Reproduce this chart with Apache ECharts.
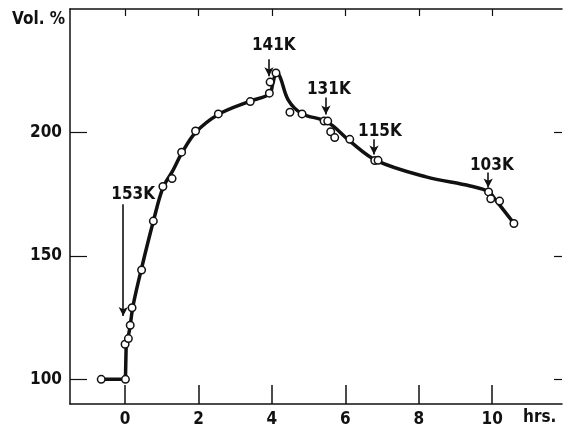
<!DOCTYPE html>
<html>
<head>
<meta charset="utf-8">
<script src="https://cdn.jsdelivr.net/npm/echarts@6/dist/echarts.min.js"></script>
<style>
  html, body { margin: 0; padding: 0; background: #fff; }
  #chart { width: 563px; height: 428px; }
</style>
</head>
<body>
<div id="chart"></div>
<script>
// Measured volume (%) against time (hrs.)
const obsHours = [-0.65, 0.01, 0.0, 0.09, 0.14, 0.19, 0.45, 0.77, 1.03, 1.28, 1.54, 1.92, 2.54, 3.41, 3.93, 3.95, 4.11, 4.49, 4.82, 5.42, 5.52, 5.6, 5.71, 6.12, 6.8, 6.89, 9.9, 9.96, 10.2, 10.59];
const obsVol   = [100, 100, 114.2, 116.5, 121.9, 129, 144.3, 164.1, 178.1, 181.3, 192, 200.6, 207.5, 212.5, 215.9, 220.4, 224.1, 208.2, 207.5, 204.6, 204.6, 200.3, 197.9, 197.2, 188.6, 188.7, 175.9, 173.1, 172.2, 163.1];

// Baseline and initial jump of the trend line (straight segments)
const stepHours = [-0.65, 0.01, 0.03];
const stepVol   = [100, 100, 114];

// Smooth part of the trend line
const curveHours = [0.03, 0.12, 0.22, 0.45, 0.77, 1.03, 1.3, 1.54, 1.92, 2.54, 3.41, 3.93, 4.02, 4.12, 4.22, 4.45, 4.82, 5.5, 6.12, 6.85, 8.2, 9.4, 9.9, 10.1, 10.59];
const curveVol   = [114, 120, 130, 145, 164, 177.5, 184.5, 191.5, 200, 207.3, 212.7, 215.5, 219.5, 224.3, 222.5, 213, 207.6, 204.3, 196.5, 188.6, 182, 178.3, 176, 172.5, 163.2];

// Temperature change markers: label, arrow x, arrow top, arrow tip, label x, label y
const markLabels = ['153K', '141K', '131K', '115K', '103K'];
const markX      = [-0.05, 3.92, 5.47, 6.78, 9.89];
const markTop    = [170.9, 229.6, 214.2, 197.2, 183.8];
const markTip    = [125.6, 222.8, 207.3, 191.1, 177.7];
const labelX     = [0.22, 4.05, 5.55, 6.94, 9.99];
const labelY     = [174.9, 235.2, 217.4, 200.5, 186.4];

// Axis tick labels
const xTicks = [0, 2, 4, 6, 8, 10];
const yTicks = [100, 150, 200];

const FONT = "'Liberation Sans Narrow', 'DejaVu Sans Condensed', 'Liberation Sans', sans-serif";
const INK = '#111';
const FS = 17;
const FW = 'bold';

const chart = echarts.init(document.getElementById('chart'), null, { renderer: 'canvas' });

const pairs = (xs, ys) => xs.map((x, i) => [x, ys[i]]);
const labelData = markLabels.map((t, i) => ({ value: [labelX[i], labelY[i]], name: t }));
const arrowData = markLabels.map((t, i) => [
  { coord: [markX[i], markTop[i]] },
  { coord: [markX[i], markTip[i]] }
]);

const traceStyle = { color: INK, width: 3.5, cap: 'round', join: 'round' };

chart.setOption({
  animation: false,
  backgroundColor: '#fff',
  grid: { left: 70, top: 9, width: 492, height: 395, containLabel: false, outerBoundsMode: 'none' },
  xAxis: [
    {
      type: 'value', min: -1.5, max: 11.9, position: 'bottom',
      axisLine: { show: true, onZero: false, lineStyle: { color: INK, width: 1.5 } },
      axisTick: { show: true, inside: true, length: 19, customValues: xTicks, lineStyle: { color: INK, width: 1.5 } },
      axisLabel: { show: true, customValues: xTicks, margin: 7, color: INK, fontFamily: FONT, fontSize: FS, fontWeight: FW,
        formatter: v => String(v) },
      splitLine: { show: false }
    },
    {
      type: 'value', min: -1.5, max: 11.9, position: 'top',
      axisLine: { show: true, onZero: false, lineStyle: { color: INK, width: 1.5 } },
      axisTick: { show: true, inside: true, length: 7, customValues: xTicks, lineStyle: { color: INK, width: 1.2 } },
      axisLabel: { show: false },
      splitLine: { show: false }
    }
  ],
  yAxis: [
    {
      type: 'value', min: 90, max: 250, position: 'left',
      axisLine: { show: true, onZero: false, lineStyle: { color: INK, width: 1.5 } },
      axisTick: { show: true, inside: true, length: 17, customValues: yTicks, lineStyle: { color: INK, width: 1.2 } },
      axisLabel: { show: true, customValues: yTicks, margin: 8, color: INK, fontFamily: FONT, fontSize: FS, fontWeight: FW },
      splitLine: { show: false }
    },
    {
      type: 'value', min: 90, max: 250, position: 'right',
      axisLine: { show: false, onZero: false },
      axisTick: { show: true, inside: true, length: 8, customValues: yTicks, lineStyle: { color: INK, width: 1.2 } },
      axisLabel: { show: false },
      splitLine: { show: false }
    }
  ],
  graphic: [
    { type: 'text', left: 12, top: 11, style: { text: 'Vol. %', fill: INK, font: FW + ' ' + FS + 'px ' + FONT } },
    { type: 'text', left: 523, top: 409, style: { text: 'hrs.', fill: INK, font: FW + ' ' + FS + 'px ' + FONT } }
  ],
  series: [
    {
      name: 'step', type: 'line', data: pairs(stepHours, stepVol), smooth: false,
      showSymbol: false, symbol: 'none', lineStyle: traceStyle, silent: true, z: 2
    },
    {
      name: 'curve', type: 'line', data: pairs(curveHours, curveVol), smooth: 0.35,
      showSymbol: false, symbol: 'none', lineStyle: traceStyle, silent: true, z: 2,
      markLine: {
        silent: true, symbol: ['none', 'arrow'], symbolSize: [7, 9],
        label: { show: false },
        lineStyle: { color: INK, width: 1.6, type: 'solid', opacity: 1 },
        data: arrowData
      }
    },
    {
      name: 'measured', type: 'scatter', data: pairs(obsHours, obsVol),
      symbol: 'circle', symbolSize: 7.5,
      itemStyle: { color: '#fff', borderColor: INK, borderWidth: 1.5, opacity: 1 },
      z: 3
    },
    {
      name: 'labels', type: 'scatter', data: labelData, symbolSize: 0,
      itemStyle: { opacity: 1 },
      label: { show: true, position: 'inside', formatter: p => p.name, color: INK, fontFamily: FONT, fontSize: FS, fontWeight: FW },
      z: 4, silent: true
    }
  ]
});
</script>
</body>
</html>
